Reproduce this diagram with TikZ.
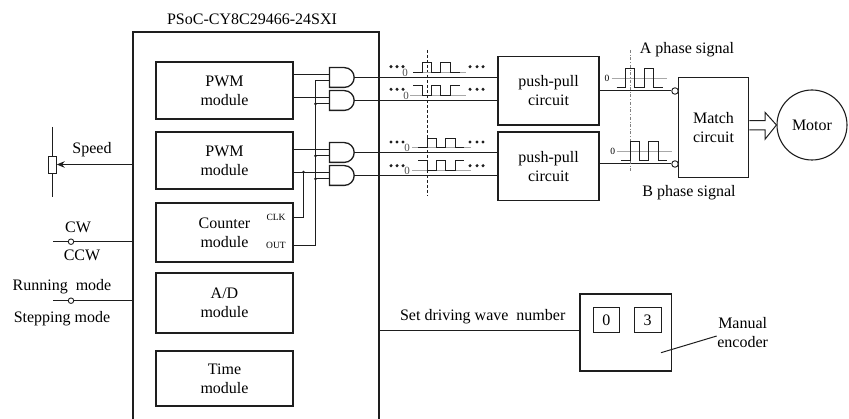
\documentclass[tikz,border=0pt]{standalone}
\usepackage{fontspec}
\setmainfont{Liberation Serif}
\usetikzlibrary{arrows.meta,shapes.gates.logic.US}
\definecolor{wireblk}{HTML}{1E1E1E}
\definecolor{zerogray}{HTML}{A8A8A8}
\tikzset{
  modbox/.style={draw=wireblk, line width=1.5pt, inner sep=0pt, align=center, minimum width=137pt},
  wire/.style={draw=wireblk, line width=1pt},
  wave/.style={draw=wireblk, line width=1pt},
  zeroline/.style={draw=zerogray, line width=0.6pt},
  andgate/.style={and gate US, draw=wireblk, line width=1.3pt, logic gate inputs=nn, minimum height=16pt, minimum width=22pt, inner sep=0pt},
  swnode/.style={circle, draw=wireblk, fill=white, line width=0.9pt, inner sep=0pt, minimum size=5.5pt},
  lbl/.style={align=center, inner sep=0pt},
  tinylbl/.style={font=\fontsize{9.5}{10}\selectfont, inner sep=0pt},
  zerolbl/.style={font=\fontsize{11}{11}\selectfont, inner sep=0pt, text=black!70}
}
\begin{document}
\begin{tikzpicture}[x=1pt, y=-1pt, >={Stealth[length=8pt,width=6.5pt]}, font=\fontsize{16}{19}\selectfont]
\useasboundingbox (0,0) rectangle (849,419);

%%% Chip outline, open at the bottom
\coordinate (chipL) at (133,32);
\coordinate (chipR) at (379,32);
\draw[line width=1.6pt, draw=wireblk] (133,419) -- (chipL) -- (chipR) -- (379,419);
\node[lbl] (chiptitle) at (252,19) {PSoC-CY8C29466-24SXI};

% Modules
\node[modbox, minimum height=57pt] (pwmA) at (224.5,90.5) {PWM\\module};
\node[modbox, minimum height=57pt] (pwmB) at (224.5,160.5) {PWM\\module};
\node[modbox, minimum height=59pt] (counter) at (224.5,232.5) {Counter\\module};
\node[modbox, minimum height=60pt] (adc) at (224.5,303) {A/D\\module};
\node[modbox, minimum height=55pt] (timer) at (224.5,378.5) {Time\\module};
\node[tinylbl] (clk) at (276,217) {CLK};
\node[tinylbl] (out) at (276,245.5) {OUT};

% AND gates
\node[andgate] (gateA) at (341,77.5) {};
\node[andgate] (gateB) at (341,100.5) {};
\node[andgate] (gateC) at (341,152.5) {};
\node[andgate] (gateD) at (341,175.5) {};

% Right hand blocks
\node[modbox, minimum width=101pt, minimum height=68.5pt] (pushA) at (548.5,90.75) {push-pull\\circuit};
\node[modbox, minimum width=101pt, minimum height=68.5pt] (pushB) at (548.5,166.3) {push-pull\\circuit};
\node[modbox, line width=1.1pt, minimum width=70.5pt, minimum height=99.5pt] (match) at (713.5,127.5) {Match\\circuit};
\node[circle, draw=wireblk, line width=1.1pt, minimum size=70pt, inner sep=0pt] (motor) at (812,125) {Motor};

% PWM to gates
\foreach \p/\g in {A/A,A/B,B/C,B/D} \draw[wire] (pwm\p.east |- gate\g.input 1) -- (gate\g.input 1);

% Counter output bus
\coordinate (outpin) at (counter.east |- out);
\coordinate (clkpin) at (293,218);
\coordinate (busX) at (315.5,0);
\coordinate (clkX) at (303.5,0);
\draw[wire] (outpin) -- (outpin -| busX) -- (busX |- gateA.input 2) -- (gateA.input 2);
\foreach \g in {B,C,D} {
  \draw[wire] (busX |- gate\g.input 2) -- (gate\g.input 2);
  \fill[wireblk] (busX |- gate\g.input 2) circle (1.5pt);
}
\draw[wire] (clkpin) -- (clkpin -| clkX) -- (clkX |- gateD.input 1);
\fill[wireblk] (clkX |- gateD.input 1) circle (1.5pt);

% Gate outputs to push-pull
\foreach \g/\p in {A/A,B/A,C/B,D/B} \draw[wire, line width=1.2pt] (gate\g.output) -- (gate\g.output -| push\p.west);

%%% Pulse trains ahead of the push-pull circuits
\draw[wire, densely dashed, line width=0.7pt] (427.5,50) -- (427.5,196);
% Row 1
\draw[zeroline] (413,72.3) -- (466,72.3);
\draw[wave] (413,72.3) -- (422.7,72.3) -- (422.7,62.7) -- (431.7,62.7) -- (431.7,72.3) -- (440.7,72.3) -- (440.7,62.7) -- (450.7,62.7) -- (450.7,72.3) -- (460,72.3);
\node[zerolbl] (zeroA) at (405,72.7) {0};
% Row 2
\draw[zeroline] (410,95.7) -- (466,95.7);
\draw[wave] (413,86) -- (422.7,86) -- (422.7,95.7) -- (431.7,95.7) -- (431.7,86) -- (440.7,86) -- (440.7,95.7) -- (450.7,95.7) -- (450.7,86) -- (460,86);
\node[zerolbl] (zeroB) at (406,95.7) {0};
% Row 3
\draw[zeroline] (412,147.7) -- (471,147.7);
\draw[wave] (418,147.7) -- (427.3,147.7) -- (427.3,138.7) -- (436.3,138.7) -- (436.3,147.7) -- (445.7,147.7) -- (445.7,138.7) -- (455,138.7) -- (455,147.7) -- (464,147.7);
\node[zerolbl] (zeroC) at (407,147.7) {0};
% Row 4
\draw[zeroline] (412,170.7) -- (471,170.7);
\draw[wave] (418,161) -- (427.3,161) -- (427.3,170.7) -- (436.3,170.7) -- (436.3,161) -- (445.7,161) -- (445.7,170.7) -- (455,170.7) -- (455,161) -- (464,161);
\node[zerolbl] (zeroD) at (407,170.7) {0};
% Ellipsis dots
\foreach \y in {66.7,89.3,142,165.7} {
  \foreach \x in {391,397,403,470,477,483} \fill[wireblk] (\x,\y) circle (1.7pt);
}

%%% Phase signals
\node[swnode, minimum size=6.5pt] (invA) at (675,91) {};
\node[swnode, minimum size=6.5pt] (invB) at (675,164) {};
\draw[wire] (pushA.east |- invA) -- (invA.west);
\draw[wire] (pushB.east |- invB) -- (invB.west);
\draw[gray, dash dot, line width=0.5pt] (630.3,50) -- (630.3,173);
\draw[zeroline] (611.7,78.3) -- (666.7,78.3);
\draw[wave] (616.7,87.3) -- (625.7,87.3) -- (625.7,69) -- (634.7,69) -- (634.7,87.3) -- (644,87.3) -- (644,69) -- (653.3,69) -- (653.3,87.3) -- (662.7,87.3);
\node[tinylbl] (zeroE) at (607,78.3) {0};
\draw[zeroline] (616.7,151) -- (671.7,151);
\draw[wave] (621.3,160.3) -- (630.3,160.3) -- (630.3,142) -- (639.3,142) -- (639.3,160.3) -- (648.7,160.3) -- (648.7,142) -- (658,142) -- (658,160.3) -- (667.3,160.3);
\node[tinylbl] (zeroF) at (612.7,151) {0};
\node[lbl] (phaseA) at (687,50) {A phase signal};
\node[lbl] (phaseB) at (689,193) {B phase signal};

% Hollow arrow, match circuit to motor
\draw[draw=wireblk, line width=1pt, fill=white] (match.east |- 0,120.7) -- (765,120.7) -- (765,112.3) -- (motor.west) -- (765,139.3) -- (765,130) -- (match.east |- 0,130);

%%% Left side inputs
\node[rectangle, draw=wireblk, fill=white, line width=0.9pt, minimum width=7.5pt, minimum height=17pt, inner sep=0pt] (pot) at (52.5,164.5) {};
\coordinate (potT) at (52.5,127);
\coordinate (potB) at (52.5,197);
\draw[wire] (potT) -- (pot.north);
\draw[wire] (pot.south) -- (potB);
\draw[wire, ->] (pot.east -| chipL) -- (pot.east);
\node[lbl] (speed) at (92,150) {Speed};

\coordinate (cwEnd) at (53,241.7);
\node[swnode] (cwsw) at (71,241.7) {};
\draw[wire] (cwEnd) -- (cwsw.west);
\draw[wire] (cwsw.east) -- (cwsw.east -| chipL);
\node[lbl] (cw) at (78,227) {CW};
\node[lbl] (ccw) at (82,255) {CCW};

\coordinate (runEnd) at (53,300.7);
\node[swnode] (runsw) at (71,300.7) {};
\draw[wire] (runEnd) -- (runsw.west);
\draw[wire] (runsw.east) -- (runsw.east -| chipL);
\node[lbl] (running) at (62,287) {Running\ \ mode};
\node[lbl] (stepping) at (62,319) {Stepping mode};

%%% Manual encoder
\node[modbox, line width=1.2pt, minimum width=91.7pt, minimum height=77pt] (encoder) at (625.8,332.5) {};
\node[modbox, line width=0.8pt, minimum width=26pt, minimum height=25.7pt] (digitA) at (606.3,320) {0};
\node[modbox, line width=0.8pt, minimum width=26.7pt, minimum height=25.7pt] (digitB) at (647.7,320) {3};
\draw[wire] (encoder.west |- 0,330.7) -- (chipR |- 0,330.7);
\node[lbl] (setwave) at (482.7,316.7) {Set driving wave\ \ number};
\node[lbl] (manual) at (742.7,333) {Manual\\encoder};
\coordinate (ptrEnd) at (661,352.7);
\draw[wire] (ptrEnd) -- (716.7,336);
\end{tikzpicture}
\end{document}
